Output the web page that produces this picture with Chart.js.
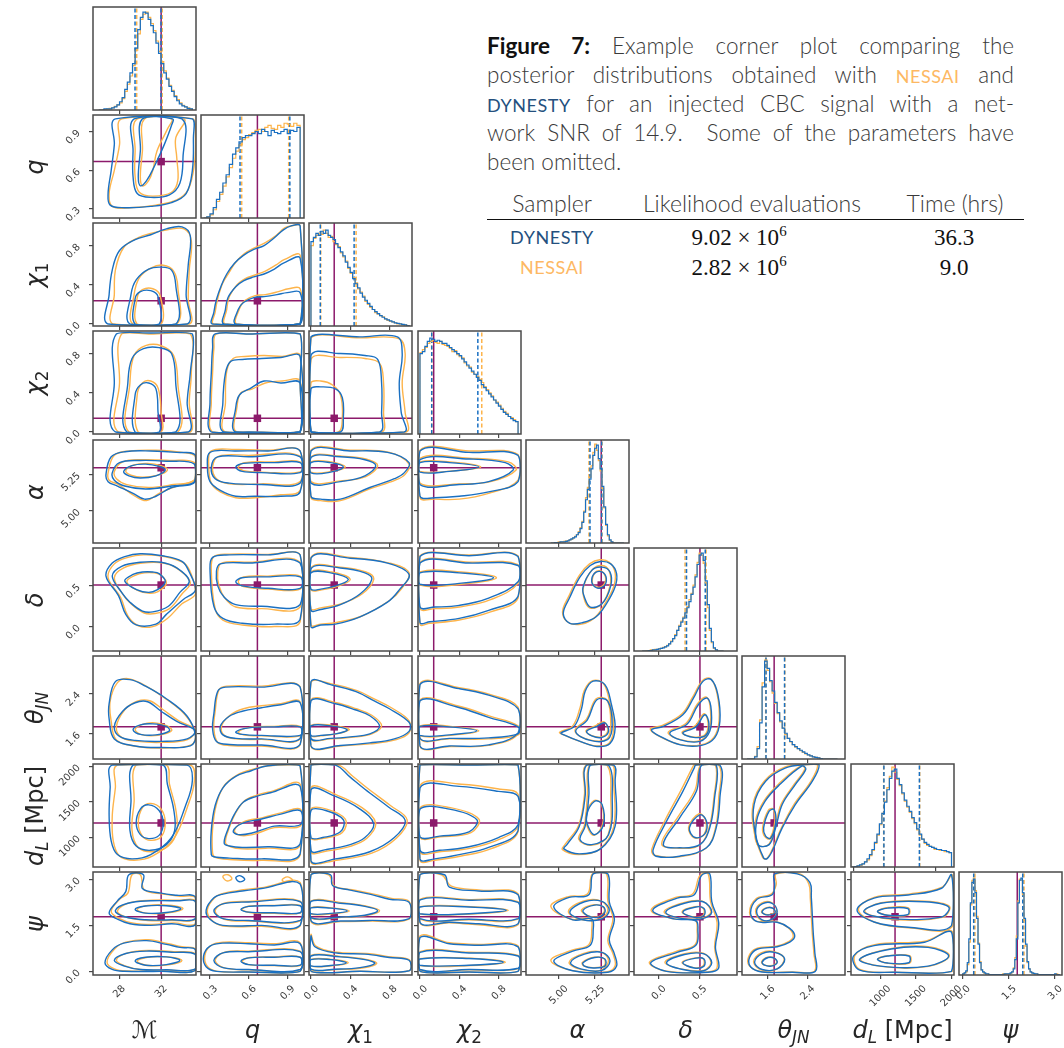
<!DOCTYPE html>
<html>
<head>
<meta charset="utf-8">
<title>Corner plot: nessai vs dynesty</title>
<script src="https://cdn.jsdelivr.net/npm/chart.js@4.4.1/dist/chart.umd.min.js"></script>
<style>
  html, body { margin:0; padding:0; background:#fff; }
  #page { position:relative; width:1064px; height:1048px; overflow:hidden; background:#fff; }
  #page canvas { position:absolute; }
  .axlab { position:absolute; font-family:'DejaVu Sans', 'Noto Sans', sans-serif; font-size:24px; color:#262626;
           white-space:nowrap; transform:translate(-50%,-50%); line-height:1; }
  .axlab.rot { transform:translate(-50%,-50%) rotate(-90deg); }
  .axlab i { font-style:oblique; }
  .axlab sub { font-size:70%; vertical-align:-0.3em; line-height:0; }
  #caption { position:absolute; left:487px; top:31px; width:527px; font-family:Lato, sans-serif; font-weight:300;
             font-size:22.5px; color:#3a3a3a; }
  #caption .ln { height:29px; line-height:29px; text-align:justify; text-align-last:justify; }
  #caption .ln.last { text-align-last:left; }
  #caption b { font-weight:700; color:#111; }
  .cell { position:absolute; transform:translate(-50%,-50%); white-space:nowrap; line-height:1; }
  .hd { font-family:Lato, sans-serif; font-weight:300; font-size:23px; color:#3a3a3a; }
  .num { font-family:'Liberation Serif', serif; font-size:23px; color:#111; }
  .num sup { font-size:65%; vertical-align:0.55em; line-height:0; }
  .sc-ne { color:#fdb863 !important; font-size:0.8em; letter-spacing:0.03em; font-weight:400; }
  .sc-dy { color:#24507e !important; font-size:0.8em; letter-spacing:0.03em; font-weight:400; }
  .cell.sc-ne, .cell.sc-dy { font-size:18px; }
  #rule { position:absolute; left:487px; top:219px; width:537px; height:0; border-top:1.3px solid #111; }
</style>
</head>
<body>
<div id="page">
  <div id="caption">
    <div class="ln"><b>Figure 7:</b> Example corner plot comparing the</div>
    <div class="ln">posterior distributions obtained with <span class="sc-ne">NESSAI</span> and</div>
    <div class="ln"><span class="sc-dy">DYNESTY</span> for an injected CBC signal with a net-</div>
    <div class="ln">work SNR of 14.9.&nbsp; Some of the parameters have</div>
    <div class="ln last">been omitted.</div>
  </div>
  <div class="cell hd" style="left:552px;top:203px">Sampler</div>
  <div class="cell hd" style="left:752px;top:203px">Likelihood evaluations</div>
  <div class="cell hd" style="left:955px;top:203px">Time (hrs)</div>
  <div id="rule"></div>
  <div class="cell hd sc-dy" style="left:552px;top:237px">DYNESTY</div>
  <div class="cell num" style="left:739px;top:237px">9.02 × 10<sup>6</sup></div>
  <div class="cell num" style="left:954px;top:237px">36.3</div>
  <div class="cell hd sc-ne" style="left:552px;top:267px">NESSAI</div>
  <div class="cell num" style="left:739px;top:267px">2.82 × 10<sup>6</sup></div>
  <div class="cell num" style="left:954px;top:267px">9.0</div>
</div>
<script>
// ---------------- parameters (order: Mc, q, chi1, chi2, alpha, delta, theta_JN, d_L, psi) ----------------
const paramLabels = ['ℳ', '<i>q</i>', '<i>χ</i><sub>1</sub>', '<i>χ</i><sub>2</sub>', '<i>α</i>', '<i>δ</i>',
                     '<i>θ</i><sub><i>JN</i></sub>', '<i>d</i><sub><i>L</i></sub> [Mpc]', '<i>ψ</i>'];
const axisMin = [25.45, 0.23, -0.02, -0.02, 4.78, -0.30, 1.10, 585, -0.12];
const axisMax = [35.35, 1.03, 1.03, 1.03, 5.485, 0.965, 3.15, 2035, 3.24];
const tickVals = [[28, 32], [0.3, 0.6, 0.9], [0, 0.4, 0.8], [0, 0.4, 0.8], [5.0, 5.25], [0, 0.5], [1.6, 2.4], [1000, 1500, 2000], [0, 1.5, 3.0]];
const tickText = [['28', '32'], ['0.3', '0.6', '0.9'], ['0.0', '0.4', '0.8'], ['0.0', '0.4', '0.8'], ['5.00', '5.25'],
                  ['0.0', '0.5'], ['1.6', '2.4'], ['1000', '1500', '2000'], ['0.0', '1.5', '3.0']];
const histTickVals = [[28, 32], [0.3, 0.6, 0.9], [0, 0.4, 0.8], [0, 0.4, 0.8], [5.0, 5.25], [0, 0.5], [1.6, 2.4], [620, 1195, 1780], [0, 1.5, 3.0]];
const truths = [32.0, 0.668, 0.237, 0.14, 5.295, 0.51, 1.74, 1205, 1.78];

// ---------------- 1-D marginals (step histograms, heights as fraction of panel) ----------------
const histStart = [26.0, 0.25, 0.0, 0.0, 4.95, -0.2, 1.2, 600, 0.0];
const histWidth = [0.25, 0.025, 0.025, 0.025, 0.0125, 0.025, 0.05, 35, 0.05];

const histMcDy = [0,0,0.01,0.01, 0.01,0.02,0.03,0.05, 0.08,0.12,0.2,0.27, 0.36,0.45,0.6,0.78, 0.9,0.95,0.94,0.88, 0.82,0.75,0.65,0.55, 0.45,0.36,0.3,0.23, 0.18,0.13,0.09,0.06, 0.04,0.03,0.015,0.01];
const histMcNe = [0,0,0.005,0.01, 0.015,0.02,0.035,0.05, 0.07,0.11,0.18,0.25, 0.33,0.43,0.58,0.74, 0.88,0.93,0.95,0.9, 0.84,0.77,0.67,0.57, 0.47,0.38,0.31,0.24, 0.19,0.14,0.1,0.07, 0.045,0.03,0.02,0.01];
const histQDy = [0,0.01, 0.04,0.1, 0.18,0.25, 0.34,0.42, 0.52,0.62, 0.68,0.74, 0.78,0.8, 0.8,0.82, 0.84,0.82, 0.86,0.84, 0.8,0.85, 0.83,0.82, 0.84,0.86, 0.82,0.85, 0.84,0.88];
const histQNe = [0,0.01, 0.03,0.08, 0.16,0.23, 0.31,0.4, 0.49,0.58, 0.65,0.71, 0.76,0.78, 0.81,0.83, 0.85,0.86, 0.84,0.88, 0.9,0.87, 0.86,0.9, 0.88,0.92, 0.91,0.89, 0.92,0.9];
const histC1Dy = [0.82,0.86,0.9,0.88, 0.92,0.9,0.93,0.88, 0.86,0.84,0.8,0.76, 0.72,0.68,0.62,0.57, 0.52,0.46,0.41,0.37, 0.32,0.28,0.25,0.22, 0.19,0.16,0.14,0.12, 0.1,0.085,0.07,0.06, 0.05,0.04,0.03,0.025, 0.02,0.015,0.01,0.005];
const histC1Ne = [0.78,0.85,0.88,0.9, 0.89,0.93,0.9,0.86, 0.87,0.82,0.79,0.77, 0.71,0.67,0.63,0.56, 0.51,0.47,0.42,0.36, 0.33,0.29,0.24,0.21, 0.18,0.16,0.13,0.115, 0.1,0.09,0.07,0.055, 0.045,0.04,0.03,0.02, 0.02,0.01,0.01,0.005];
const histC2Dy = [0.78,0.8,0.85,0.9, 0.93,0.92,0.9,0.91, 0.9,0.88,0.88,0.86, 0.84,0.82,0.8,0.78, 0.76,0.73,0.7,0.67, 0.64,0.61,0.58,0.55, 0.52,0.48,0.45,0.42, 0.39,0.36,0.33,0.3, 0.27,0.24,0.21,0.19, 0.17,0.15,0.13,0.12];
const histC2Ne = [0.79,0.82,0.84,0.88, 0.9,0.91,0.89,0.88, 0.9,0.87,0.86,0.85, 0.83,0.8,0.81,0.77, 0.75,0.74,0.69,0.66, 0.65,0.6,0.58,0.56, 0.53,0.5,0.46,0.43, 0.4,0.37,0.33,0.31, 0.28,0.25,0.22,0.2, 0.17,0.16,0.14,0.12];
const histRaDy = [0,0,0.005,0.005, 0.005,0.01,0.01,0.01, 0.015,0.02,0.03,0.04, 0.05,0.06,0.08,0.1, 0.14,0.2,0.3,0.42, 0.52,0.62,0.72,0.85, 0.92,0.95,0.82,0.72, 0.55,0.35,0.18,0.08, 0.03,0.01,0,0, 0,0,0,0];
const histRaNe = [0,0,0,0.005, 0.01,0.01,0.01,0.015, 0.02,0.02,0.03,0.035, 0.05,0.065,0.08,0.11, 0.15,0.21,0.31,0.44, 0.54,0.64,0.75,0.88, 0.96,0.9,0.8,0.7, 0.53,0.34,0.17,0.07, 0.025,0.01,0,0, 0,0,0,0];
const histDecDy = [0,0,0,0.005, 0.005,0.01,0.01,0.015, 0.02,0.025,0.03,0.04, 0.05,0.07,0.09,0.12, 0.15,0.2,0.24,0.28, 0.32,0.37,0.42,0.48, 0.55,0.62,0.72,0.84, 0.93,0.95,0.88,0.68, 0.45,0.22,0.09,0.03, 0.01,0,0,0];
const histDecNe = [0,0,0.005,0.005, 0.01,0.01,0.015,0.015, 0.02,0.025,0.035,0.04, 0.055,0.07,0.095,0.12, 0.16,0.2,0.25,0.29, 0.33,0.37,0.43,0.5, 0.56,0.64,0.74,0.86, 0.95,0.93,0.85,0.66, 0.42,0.2,0.08,0.025, 0.01,0,0,0];
const histThDy = [0,0,0,0.02, 0.1,0.35,0.7,0.95, 0.88,0.76,0.66,0.55, 0.45,0.37,0.3,0.25, 0.2,0.17,0.14,0.12, 0.1,0.085,0.07,0.055, 0.04,0.03,0.02,0.015, 0.01,0.005,0,0, 0,0,0,0];
const histThNe = [0,0,0,0.025, 0.12,0.38,0.74,0.96, 0.86,0.75,0.64,0.54, 0.44,0.36,0.3,0.24, 0.2,0.165,0.14,0.115, 0.1,0.08,0.065,0.05, 0.04,0.03,0.02,0.015, 0.01,0.005,0,0, 0,0,0,0];
const histDlDy = [0,0.005,0.01,0.02, 0.03,0.05,0.08,0.12, 0.17,0.24,0.32,0.42, 0.52,0.63,0.75,0.86, 0.93,0.95,0.86,0.8, 0.72,0.65,0.59,0.54, 0.48,0.43,0.37,0.32, 0.27,0.24,0.22,0.2, 0.19,0.18,0.17,0.17, 0.16,0.16,0.15,0.14];
const histDlNe = [0,0.005,0.01,0.015, 0.03,0.05,0.07,0.11, 0.16,0.23,0.31,0.41, 0.52,0.64,0.77,0.88, 0.97,0.92,0.85,0.79, 0.71,0.64,0.58,0.53, 0.47,0.42,0.36,0.31, 0.27,0.23,0.21,0.2, 0.19,0.17,0.17,0.16, 0.16,0.15,0.15,0.14];
const histPsiDy = [0.01,0.02,0.04, 0.12,0.35, 0.7,0.9,0.93,0.8, 0.55,0.3,0.12, 0.05,0.03,0.02,0.01,
  0.01,0.005,0.005,0.005,0.005,0.005,0.005,0.005,0.005,0.005,0.005,0.01,0.01,0.01,
  0.01,0.02,0.03,0.06, 0.15,0.35, 0.7,0.92,0.94,0.8, 0.55,0.3,0.13, 0.06,0.03,0.02,0.015,0.01,
  0.01,0.005,0.005,0.005,0.005,0.005,0.005,0.005,0.005,0.005,0.005,0.005,0.01,0.005,0.005];
const histPsiNe = [0.01,0.02,0.03, 0.1,0.32, 0.68,0.92,0.94,0.82, 0.57,0.31,0.13, 0.05,0.03,0.015,0.01,
  0.01,0.005,0.005,0.005,0.005,0.005,0.005,0.005,0.005,0.005,0.01,0.005,0.01,0.01,
  0.01,0.015,0.03,0.07, 0.17,0.38, 0.72,0.93,0.92,0.78, 0.53,0.28,0.12, 0.06,0.03,0.02,0.01,0.01,
  0.01,0.005,0.005,0.005,0.005,0.005,0.005,0.005,0.005,0.005,0.005,0.005,0.005,0.01,0.005];
const histDy = [histMcDy, histQDy, histC1Dy, histC2Dy, histRaDy, histDecDy, histThDy, histDlDy, histPsiDy];
const histNe = [histMcNe, histQNe, histC1Ne, histC2Ne, histRaNe, histDecNe, histThNe, histDlNe, histPsiNe];

// credible-interval bounds drawn as dashed lines on the marginals
const quantDy = [[29.49, 31.99], [0.533, 0.92], [0.095, 0.44], [0.12, 0.59], [5.218, 5.298], [0.345, 0.575], [1.578, 1.947], [1048, 1548], [0.36, 1.96]];
const quantNe = [[29.65, 32.1], [0.546, 0.911], [0.1, 0.46], [0.12, 0.63], [5.211, 5.3], [0.327, 0.585], [1.572, 1.952], [1045, 1552], [0.4, 2.0]];

// ---------------- 2-D credible contours, [x0,y0, x1,y1, ...] closed loops ----------------
const ct_q_mc = {
  dy: [[27.6,1.0, 27.5,0.8, 27.2,0.6, 26.9,0.42, 27.1,0.33, 28.5,0.31, 31.0,0.32, 33.0,0.35, 34.4,0.42, 35.0,0.6, 35.1,0.85, 35.0,1.0],
       [29.4,1.0, 29.3,0.75, 29.3,0.55, 29.7,0.42, 31.0,0.39, 32.8,0.41, 33.8,0.5, 34.1,0.7, 34.0,1.0],
       [30.2,1.0, 30.0,0.75, 29.8,0.55, 30.0,0.48, 30.6,0.52, 31.4,0.64, 32.3,0.8, 33.0,0.95, 33.1,1.0]],
  ne: [[28.2,1.0, 28.0,0.8, 27.5,0.6, 27.0,0.42, 27.3,0.32, 29.0,0.31, 31.5,0.33, 33.5,0.37, 34.6,0.45, 35.2,0.65, 35.3,0.85, 35.1,1.0],
       [29.7,1.0, 29.5,0.75, 29.5,0.55, 29.9,0.43, 31.2,0.4, 33.0,0.43, 33.6,0.52, 33.5,0.7, 33.4,0.85, 34.2,1.0],
       [30.4,1.0, 30.2,0.75, 30.0,0.55, 30.2,0.48, 30.8,0.52, 31.2,0.6, 31.6,0.75, 32.6,0.92, 33.0,1.0]]
};
const ct_c1_mc = {
  dy: [[26.9,0.0, 27.0,0.3, 27.3,0.55, 28.0,0.75, 29.5,0.86, 31.0,0.91, 32.5,0.97, 34.0,0.99, 34.8,0.9, 34.6,0.6, 34.4,0.3, 34.5,0.0],
       [29.0,0.0, 29.1,0.3, 29.6,0.45, 30.8,0.56, 32.0,0.58, 33.0,0.55, 33.4,0.4, 33.4,0.0],
       [29.5,0.0, 29.5,0.26, 30.0,0.33, 31.0,0.34, 31.7,0.28, 31.8,0.0]],
  ne: [[27.4,0.0, 27.5,0.3, 27.6,0.55, 28.4,0.78, 29.8,0.88, 31.2,0.93, 32.6,0.96, 34.2,0.97, 34.9,0.85, 34.7,0.55, 34.6,0.25, 34.7,0.0],
       [29.3,0.0, 29.4,0.3, 29.9,0.47, 31.0,0.57, 32.2,0.6, 33.2,0.54, 33.6,0.38, 33.5,0.0],
       [29.7,0.0, 29.7,0.27, 30.2,0.35, 31.2,0.36, 31.9,0.29, 32.0,0.0]]
};
const ct_c2_mc = {
  dy: [[27.6,0.0, 27.5,0.5, 27.7,1.0, 31.0,1.01, 35.0,1.0, 34.8,0.6, 34.5,0.3, 34.6,0.0],
       [28.7,0.0, 28.8,0.5, 29.2,0.75, 30.3,0.85, 31.8,0.86, 33.0,0.8, 33.4,0.5, 33.4,0.0],
       [29.5,0.0, 29.5,0.38, 30.0,0.48, 30.8,0.5, 31.5,0.44, 31.7,0.2, 31.8,0.0]],
  ne: [[27.9,0.0, 28.0,0.5, 28.2,1.0, 31.0,1.0, 34.8,1.0, 34.9,0.6, 34.7,0.3, 34.8,0.0],
       [28.9,0.0, 29.0,0.5, 29.4,0.78, 30.5,0.88, 32.0,0.88, 33.2,0.78, 33.6,0.5, 33.6,0.0],
       [29.8,0.0, 29.7,0.38, 30.2,0.5, 31.0,0.52, 31.7,0.45, 32.0,0.2, 32.0,0.0]]
};
const ct_ra_mc = {
  dy: [[26.7,5.25, 27.2,5.37, 28.5,5.405, 31.0,5.41, 33.5,5.4, 35.3,5.38, 35.3,5.2, 33.0,5.16, 31.5,5.1, 30.4,5.08, 29.3,5.12, 27.8,5.17, 26.9,5.2],
       [27.3,5.26, 28.0,5.33, 30.0,5.345, 32.5,5.34, 35.2,5.32, 35.2,5.2, 33.0,5.17, 30.5,5.15, 28.5,5.17, 27.5,5.21],
       [28.4,5.27, 29.2,5.31, 30.5,5.32, 31.8,5.305, 32.4,5.28, 31.5,5.24, 30.0,5.225, 28.9,5.24]],
  ne: [[26.9,5.26, 27.5,5.38, 29.0,5.41, 31.5,5.415, 34.0,5.4, 35.3,5.37, 35.3,5.22, 33.5,5.17, 31.8,5.12, 30.6,5.07, 29.5,5.1, 27.9,5.18, 27.0,5.21],
       [27.5,5.27, 28.3,5.335, 30.2,5.35, 32.8,5.345, 35.2,5.33, 35.2,5.21, 33.2,5.18, 30.8,5.16, 28.7,5.18, 27.7,5.22],
       [28.6,5.275, 29.4,5.315, 30.7,5.325, 32.0,5.31, 32.6,5.28, 31.7,5.245, 30.2,5.23, 29.1,5.245]]
};
const ct_dec_mc = {
  dy: [[26.7,0.62, 27.3,0.78, 28.5,0.86, 30.0,0.895, 32.1,0.87, 34.0,0.8, 34.7,0.67, 35.3,0.45, 34.1,0.33, 32.5,0.15, 31.5,0.03, 29.6,0.02, 28.6,0.15, 27.9,0.38],
       [27.3,0.62, 28.2,0.74, 30.0,0.79, 32.0,0.79, 33.5,0.72, 34.7,0.56, 33.8,0.42, 32.7,0.25, 31.2,0.18, 30.2,0.19, 29.0,0.3, 28.2,0.42],
       [28.5,0.56, 29.3,0.64, 30.2,0.67, 31.2,0.67, 31.8,0.65, 32.4,0.55, 31.6,0.45, 30.8,0.42, 29.7,0.45]],
  ne: [[26.9,0.6, 27.5,0.77, 28.8,0.85, 30.3,0.88, 32.3,0.86, 34.2,0.78, 34.9,0.64, 35.3,0.4, 34.0,0.28, 32.6,0.1, 31.2,0.0, 29.8,0.01, 28.8,0.13, 28.1,0.36],
       [27.5,0.6, 28.4,0.72, 30.2,0.78, 32.2,0.78, 33.7,0.7, 34.8,0.54, 34.0,0.4, 32.8,0.22, 31.4,0.16, 30.3,0.17, 29.1,0.28, 28.3,0.4],
       [28.7,0.55, 29.5,0.63, 30.4,0.66, 31.3,0.66, 32.0,0.63, 32.5,0.53, 31.7,0.43, 30.9,0.41, 29.8,0.44]]
};
const ct_th_mc = {
  dy: [[27.6,2.64, 27.0,2.2, 27.0,1.9, 27.5,1.5, 29.5,1.36, 32.0,1.33, 34.8,1.36, 35.3,1.55, 34.5,1.95, 32.5,2.3, 30.5,2.55, 29.0,2.68],
       [27.5,1.75, 28.3,2.05, 29.5,2.22, 30.7,2.24, 32.0,2.05, 33.5,1.85, 35.3,1.66, 34.5,1.5, 32.0,1.45, 29.5,1.47, 28.0,1.55],
       [29.3,1.68, 30.0,1.78, 31.2,1.8, 32.5,1.75, 32.8,1.66, 31.5,1.58, 30.0,1.59]],
  ne: [[27.8,2.62, 27.1,2.25, 27.2,1.85, 27.7,1.48, 29.7,1.35, 32.2,1.32, 34.9,1.38, 35.3,1.6, 34.3,1.98, 32.3,2.32, 30.3,2.58, 28.8,2.7],
       [27.7,1.74, 28.5,2.08, 29.7,2.25, 30.9,2.26, 32.2,2.08, 33.7,1.86, 35.3,1.68, 34.6,1.49, 32.2,1.43, 29.7,1.45, 28.2,1.53],
       [29.5,1.68, 30.2,1.79, 31.4,1.82, 32.6,1.76, 33.0,1.66, 31.7,1.57, 30.2,1.58]]
};
const ct_dl_mc = {
  dy: [[27.3,2020, 27.1,1700, 27.0,1300, 27.2,950, 27.8,760, 29.2,700, 31.0,760, 33.0,1000, 34.3,1430, 35.0,1800, 34.5,2020],
       [29.3,2020, 29.1,1500, 29.0,1100, 29.6,880, 31.0,820, 32.5,900, 33.3,1100, 33.2,1400, 32.6,1750, 32.2,2020],
       [29.6,1200, 30.0,1400, 30.8,1460, 31.8,1380, 32.2,1200, 31.8,1030, 30.8,985, 30.0,1040]],
  ne: [[27.8,2020, 27.6,1700, 27.3,1300, 27.4,950, 28.0,740, 29.4,680, 31.2,740, 33.2,980, 34.5,1420, 35.2,1800, 34.8,2020],
       [29.6,2020, 29.4,1500, 29.2,1100, 29.8,860, 31.2,800, 32.7,880, 33.5,1090, 33.4,1400, 32.8,1750, 32.5,2020],
       [29.8,1200, 30.2,1420, 31.0,1480, 32.0,1400, 32.4,1200, 32.0,1010, 31.0,960, 30.2,1020]]
};
const ct_psi_mc = {
  dy: [[27.0,1.9, 27.8,2.3, 28.6,2.6, 28.9,3.15, 30.3,3.15, 30.2,2.7, 32.0,2.55, 33.5,2.48, 35.3,2.42, 35.3,1.52, 33.0,1.55, 31.0,1.5, 29.0,1.55, 27.8,1.7],
       [27.6,1.98, 28.8,2.22, 31.0,2.3, 33.5,2.3, 35.3,2.28, 35.3,1.72, 33.0,1.68, 30.5,1.68, 28.5,1.78],
       [29.5,2.02, 30.5,2.13, 32.5,2.14, 33.9,2.04, 32.5,1.92, 30.5,1.9],
       [26.6,0.28, 27.3,0.7, 28.4,0.92, 30.6,1.0, 32.5,0.88, 33.8,0.78, 35.3,0.7, 35.3,0.03, 32.0,0.0, 28.5,0.0, 27.3,0.06],
       [27.5,0.36, 28.6,0.58, 30.6,0.66, 33.0,0.62, 35.3,0.55, 35.3,0.08, 32.5,0.05, 30.0,0.06, 28.4,0.18],
       [29.5,0.34, 30.5,0.46, 32.5,0.47, 33.8,0.36, 32.5,0.22, 30.5,0.2]],
  ne: [[27.2,1.95, 28.0,2.35, 28.8,2.55, 29.2,3.15, 30.0,3.15, 30.4,2.65, 32.2,2.52, 33.8,2.45, 35.3,2.4, 35.3,1.55, 33.2,1.58, 31.2,1.53, 29.2,1.58, 28.0,1.72],
       [27.8,1.97, 29.0,2.24, 31.2,2.32, 33.7,2.32, 35.3,2.3, 35.3,1.7, 33.2,1.66, 30.7,1.66, 28.7,1.76],
       [29.7,2.02, 30.7,2.15, 32.7,2.16, 34.1,2.05, 32.7,1.91, 30.7,1.89],
       [26.8,0.3, 27.5,0.72, 28.6,0.95, 30.8,1.03, 32.7,0.9, 34.0,0.8, 35.3,0.72, 35.3,0.04, 32.2,0.01, 28.7,0.01, 27.5,0.08],
       [27.7,0.37, 28.8,0.6, 30.8,0.68, 33.2,0.64, 35.3,0.57, 35.3,0.07, 32.7,0.04, 30.2,0.05, 28.6,0.17],
       [29.7,0.33, 30.7,0.46, 32.7,0.47, 34.0,0.35, 32.7,0.21, 30.7,0.19]]
};
const ct_c1_q = {
  dy: [[0.32,0.0, 0.33,0.12, 0.35,0.25, 0.39,0.4, 0.43,0.51, 0.49,0.62, 0.56,0.7, 0.64,0.76, 0.72,0.8, 0.8,0.88, 0.87,0.96, 0.93,1.0, 1.0,1.0, 1.0,0.0],
       [0.41,0.0, 0.42,0.15, 0.44,0.27, 0.5,0.38, 0.56,0.44, 0.64,0.48, 0.72,0.51, 0.8,0.56, 0.87,0.62, 1.0,0.67, 1.0,0.0],
       [0.5,0.0, 0.52,0.15, 0.56,0.22, 0.64,0.27, 0.72,0.28, 0.82,0.3, 0.9,0.32, 1.0,0.32, 1.0,0.0]],
  ne: [[0.33,0.0, 0.34,0.12, 0.36,0.26, 0.4,0.42, 0.45,0.53, 0.5,0.63, 0.57,0.72, 0.65,0.78, 0.73,0.83, 0.81,0.9, 0.88,0.98, 0.93,1.0, 1.0,1.0, 1.0,0.0],
       [0.42,0.0, 0.43,0.15, 0.45,0.28, 0.51,0.4, 0.57,0.46, 0.65,0.5, 0.73,0.54, 0.81,0.6, 0.88,0.66, 1.0,0.7, 1.0,0.0],
       [0.51,0.0, 0.53,0.16, 0.57,0.24, 0.65,0.29, 0.73,0.3, 0.83,0.33, 0.91,0.36, 1.0,0.36, 1.0,0.0]]
};
const ct_c2_q = {
  dy: [[0.31,0.0, 0.3,0.3, 0.31,0.6, 0.32,0.85, 0.34,1.0, 0.6,1.0, 1.0,1.0, 1.0,0.5, 1.0,0.0, 0.6,0.0],
       [0.41,0.0, 0.4,0.3, 0.42,0.6, 0.46,0.72, 0.55,0.74, 0.7,0.75, 0.85,0.76, 1.0,0.77, 1.0,0.0],
       [0.5,0.0, 0.5,0.25, 0.53,0.38, 0.62,0.45, 0.72,0.52, 0.85,0.5, 1.0,0.5, 1.0,0.0]],
  ne: [[0.32,0.0, 0.31,0.3, 0.32,0.6, 0.33,0.85, 0.35,1.0, 0.6,1.0, 1.0,1.0, 1.0,0.5, 1.0,0.0, 0.6,0.0],
       [0.42,0.0, 0.42,0.3, 0.43,0.62, 0.48,0.75, 0.57,0.77, 0.72,0.78, 0.86,0.77, 1.0,0.78, 1.0,0.0],
       [0.51,0.0, 0.51,0.26, 0.54,0.4, 0.63,0.44, 0.73,0.5, 0.86,0.52, 1.0,0.52, 1.0,0.0]]
};
const ct_ra_q = {
  dy: [[0.28,5.3, 0.3,5.4, 0.5,5.41, 0.75,5.41, 1.0,5.41, 1.0,5.13, 0.85,5.1, 0.65,5.1, 0.5,5.1, 0.38,5.14, 0.3,5.2],
       [0.31,5.3, 0.36,5.37, 0.6,5.37, 1.0,5.37, 1.0,5.19, 0.7,5.18, 0.45,5.19, 0.34,5.22],
       [0.5,5.3, 0.56,5.325, 0.8,5.33, 1.0,5.33, 1.0,5.262, 0.7,5.262, 0.55,5.27]],
  ne: [[0.29,5.31, 0.31,5.41, 0.5,5.42, 0.75,5.415, 1.0,5.41, 1.0,5.14, 0.85,5.11, 0.65,5.09, 0.5,5.09, 0.38,5.13, 0.31,5.19],
       [0.32,5.3, 0.37,5.375, 0.6,5.38, 1.0,5.375, 1.0,5.2, 0.7,5.185, 0.45,5.185, 0.35,5.22],
       [0.52,5.3, 0.57,5.33, 0.8,5.335, 1.0,5.335, 1.0,5.267, 0.7,5.265, 0.56,5.275]]
};
const ct_dec_q = {
  dy: [[0.3,0.7, 0.32,0.85, 0.45,0.88, 0.75,0.88, 1.0,0.88, 1.0,0.09, 0.8,0.03, 0.55,0.04, 0.4,0.1, 0.33,0.25],
       [0.35,0.68, 0.38,0.77, 0.6,0.78, 1.0,0.78, 1.0,0.27, 0.7,0.25, 0.5,0.27, 0.41,0.36, 0.36,0.5],
       [0.5,0.55, 0.55,0.6, 0.75,0.61, 1.0,0.61, 1.0,0.47, 0.75,0.47, 0.55,0.5]],
  ne: [[0.31,0.68, 0.33,0.86, 0.45,0.89, 0.75,0.885, 1.0,0.88, 1.0,0.06, 0.8,0.0, 0.55,0.02, 0.4,0.08, 0.34,0.22],
       [0.36,0.67, 0.39,0.78, 0.6,0.79, 1.0,0.79, 1.0,0.24, 0.7,0.22, 0.5,0.24, 0.42,0.34, 0.37,0.5],
       [0.52,0.55, 0.56,0.61, 0.75,0.62, 1.0,0.62, 1.0,0.46, 0.75,0.46, 0.56,0.49]]
};
const ct_th_q = {
  dy: [[0.33,2.0, 0.36,2.45, 0.42,2.53, 0.7,2.53, 1.0,2.53, 1.0,1.39, 0.7,1.38, 0.45,1.39, 0.35,1.45, 0.32,1.7],
       [0.38,1.75, 0.45,1.95, 0.55,2.05, 0.7,2.12, 0.85,2.18, 1.0,2.22, 1.0,1.51, 0.7,1.5, 0.5,1.51, 0.4,1.58],
       [0.5,1.64, 0.6,1.72, 0.8,1.74, 1.0,1.74, 1.0,1.57, 0.7,1.57, 0.55,1.59]],
  ne: [[0.34,2.05, 0.37,2.48, 0.43,2.55, 0.7,2.55, 1.0,2.54, 1.0,1.38, 0.7,1.36, 0.45,1.37, 0.36,1.43, 0.33,1.7],
       [0.39,1.76, 0.46,1.98, 0.56,2.1, 0.7,2.16, 0.85,2.2, 1.0,2.24, 1.0,1.5, 0.7,1.49, 0.5,1.5, 0.41,1.57],
       [0.52,1.64, 0.61,1.73, 0.8,1.75, 1.0,1.75, 1.0,1.56, 0.7,1.56, 0.56,1.58]]
};
const ct_dl_q = {
  dy: [[0.31,760, 0.31,1100, 0.34,1450, 0.4,1700, 0.5,1860, 0.62,1940, 0.75,2010, 1.0,2010, 1.0,770, 0.7,700, 0.45,710, 0.33,730],
       [0.41,920, 0.44,1120, 0.49,1330, 0.56,1500, 0.66,1580, 0.77,1630, 1.0,1720, 1.0,910, 0.75,870, 0.55,860, 0.45,880],
       [0.48,1090, 0.55,1200, 0.7,1260, 0.85,1330, 1.0,1380, 1.0,1180, 0.8,1160, 0.62,1060, 0.52,1040]],
  ne: [[0.32,780, 0.32,1120, 0.35,1470, 0.41,1730, 0.51,1880, 0.63,1960, 0.76,2010, 1.0,2010, 1.0,750, 0.7,680, 0.45,690, 0.34,720],
       [0.42,930, 0.45,1140, 0.5,1350, 0.57,1520, 0.67,1600, 0.78,1650, 1.0,1750, 1.0,890, 0.75,850, 0.55,840, 0.46,870],
       [0.49,1100, 0.56,1220, 0.71,1280, 0.86,1350, 1.0,1400, 1.0,1160, 0.8,1140, 0.63,1040, 0.53,1030]]
};
const ct_psi_q = {
  dy: [[0.27,2.0, 0.33,2.4, 0.4,2.52, 0.55,2.62, 0.7,2.7, 1.0,2.85, 1.0,1.5, 0.7,1.5, 0.4,1.5, 0.3,1.7],
       [0.33,1.97, 0.4,2.2, 0.6,2.26, 1.0,2.27, 1.0,1.66, 0.6,1.66, 0.4,1.72],
       [0.54,2.02, 0.6,2.12, 0.8,2.14, 1.0,2.14, 1.0,1.91, 0.8,1.91, 0.6,1.93],
       [0.25,0.5, 0.3,0.82, 0.4,0.92, 0.6,0.9, 0.8,0.86, 1.0,0.9, 1.0,0.0, 0.6,-0.02, 0.35,0.0, 0.27,0.15],
       [0.33,0.35, 0.4,0.6, 0.6,0.64, 1.0,0.64, 1.0,0.06, 0.6,0.06, 0.4,0.12],
       [0.54,0.33, 0.6,0.44, 0.8,0.46, 1.0,0.46, 1.0,0.2, 0.8,0.2, 0.6,0.22],
       [0.5,3.05, 0.53,2.92, 0.57,3.0, 0.53,3.12]],
  ne: [[0.28,2.02, 0.34,2.42, 0.41,2.55, 0.56,2.66, 0.72,2.74, 1.0,2.9, 1.0,1.48, 0.7,1.47, 0.4,1.48, 0.31,1.68],
       [0.34,1.97, 0.41,2.22, 0.6,2.28, 1.0,2.29, 1.0,1.65, 0.6,1.64, 0.41,1.7],
       [0.55,2.02, 0.61,2.13, 0.8,2.15, 1.0,2.15, 1.0,1.9, 0.8,1.89, 0.61,1.92],
       [0.26,0.52, 0.31,0.85, 0.41,0.95, 0.6,0.93, 0.8,0.9, 1.0,0.93, 1.0,0.0, 0.6,-0.02, 0.36,0.0, 0.28,0.16],
       [0.34,0.36, 0.41,0.62, 0.6,0.66, 1.0,0.66, 1.0,0.05, 0.6,0.05, 0.41,0.11],
       [0.55,0.33, 0.61,0.45, 0.8,0.47, 1.0,0.47, 1.0,0.19, 0.8,0.19, 0.61,0.21],
       [0.4,3.1, 0.43,2.95, 0.47,3.02, 0.44,3.15],
       [0.86,2.98, 0.9,2.9, 0.94,2.98, 0.9,3.08]]
};
const ct_c2_c1 = {
  dy: [[0.0,0.0, 0.0,0.97, 0.5,0.97, 0.88,0.97, 0.93,0.8, 0.9,0.5, 0.92,0.2, 0.95,0.0],
       [0.0,0.0, 0.0,0.78, 0.3,0.8, 0.55,0.78, 0.68,0.74, 0.72,0.5, 0.72,0.2, 0.7,0.0],
       [0.0,0.0, 0.0,0.44, 0.1,0.46, 0.25,0.44, 0.32,0.35, 0.33,0.15, 0.3,0.0]],
  ne: [[0.0,0.0, 0.0,0.96, 0.5,0.96, 0.9,0.95, 0.96,0.8, 0.93,0.5, 0.96,0.2, 0.97,0.0],
       [0.0,0.0, 0.0,0.74, 0.3,0.76, 0.55,0.75, 0.7,0.7, 0.74,0.5, 0.74,0.2, 0.72,0.0],
       [0.0,0.0, 0.0,0.5, 0.1,0.52, 0.22,0.48, 0.3,0.38, 0.32,0.15, 0.28,0.0]]
};
const ct_ra_c1 = {
  dy: [[0.0,5.1, 0.0,5.41, 0.4,5.41, 0.78,5.4, 1.0,5.33, 0.95,5.26, 0.85,5.22, 0.6,5.16, 0.3,5.08, 0.1,5.08],
       [0.0,5.19, 0.0,5.365, 0.3,5.37, 0.55,5.35, 0.66,5.31, 0.55,5.24, 0.3,5.2],
       [0.0,5.26, 0.0,5.33, 0.2,5.33, 0.33,5.3, 0.2,5.265]],
  ne: [[0.0,5.09, 0.0,5.415, 0.4,5.415, 0.8,5.4, 1.0,5.32, 0.96,5.25, 0.86,5.21, 0.6,5.15, 0.3,5.07, 0.1,5.07],
       [0.0,5.2, 0.0,5.37, 0.3,5.375, 0.56,5.355, 0.68,5.31, 0.56,5.235, 0.3,5.205],
       [0.0,5.265, 0.0,5.335, 0.21,5.335, 0.35,5.3, 0.21,5.27]]
};
const ct_dec_c1 = {
  dy: [[0.0,0.0, 0.0,0.84, 0.4,0.84, 0.78,0.78, 1.0,0.64, 0.9,0.45, 0.78,0.3, 0.5,0.12, 0.25,0.03, 0.1,0.02],
       [0.0,0.2, 0.0,0.71, 0.3,0.72, 0.55,0.66, 0.62,0.58, 0.5,0.4, 0.3,0.27, 0.1,0.21],
       [0.0,0.46, 0.0,0.66, 0.2,0.66, 0.38,0.58, 0.25,0.5, 0.1,0.46]],
  ne: [[0.0,0.02, 0.0,0.85, 0.4,0.85, 0.8,0.78, 1.0,0.66, 0.92,0.46, 0.8,0.32, 0.52,0.13, 0.26,0.05, 0.1,0.03],
       [0.0,0.22, 0.0,0.72, 0.3,0.73, 0.56,0.67, 0.64,0.58, 0.52,0.4, 0.31,0.28, 0.1,0.23],
       [0.0,0.45, 0.0,0.67, 0.21,0.67, 0.4,0.58, 0.26,0.49, 0.1,0.45]]
};
const ct_th_c1 = {
  dy: [[0.0,1.36, 0.0,2.64, 0.2,2.58, 0.46,2.44, 0.65,2.25, 0.8,2.1, 1.0,1.83, 1.0,1.65, 0.85,1.5, 0.6,1.42, 0.3,1.37],
       [0.0,1.51, 0.0,2.26, 0.25,2.2, 0.45,2.08, 0.6,1.96, 0.7,1.75, 0.6,1.6, 0.4,1.54, 0.2,1.51],
       [0.0,1.57, 0.0,1.76, 0.2,1.76, 0.37,1.68, 0.25,1.6, 0.1,1.57]],
  ne: [[0.0,1.35, 0.0,2.62, 0.2,2.6, 0.47,2.46, 0.66,2.28, 0.82,2.12, 1.0,1.86, 1.0,1.62, 0.86,1.48, 0.6,1.4, 0.3,1.36],
       [0.0,1.5, 0.0,2.28, 0.26,2.22, 0.46,2.1, 0.62,1.97, 0.72,1.76, 0.62,1.6, 0.41,1.53, 0.2,1.5],
       [0.0,1.56, 0.0,1.77, 0.21,1.77, 0.39,1.69, 0.26,1.6, 0.1,1.56]]
};
const ct_dl_c1 = {
  dy: [[0.0,670, 0.0,2020, 0.25,2020, 0.4,1850, 0.55,1680, 0.79,1430, 0.96,1240, 0.85,1000, 0.6,800, 0.25,700],
       [0.0,817, 0.0,1672, 0.25,1578, 0.5,1400, 0.64,1190, 0.55,1000, 0.4,900, 0.15,830],
       [0.0,1000, 0.0,1380, 0.15,1380, 0.33,1250, 0.3,1080, 0.12,1000]],
  ne: [[0.0,650, 0.0,2020, 0.28,2020, 0.42,1870, 0.57,1700, 0.81,1450, 0.98,1250, 0.87,990, 0.62,780, 0.26,680],
       [0.0,800, 0.0,1700, 0.26,1600, 0.52,1420, 0.66,1200, 0.57,990, 0.41,880, 0.16,810],
       [0.0,990, 0.0,1400, 0.16,1400, 0.35,1260, 0.32,1070, 0.13,990]]
};
const ct_psi_c1 = {
  dy: [[0.0,1.65, 0.0,3.15, 0.2,3.15, 0.22,2.8, 0.4,2.65, 0.62,2.5, 0.8,2.35, 1.0,2.25, 1.0,1.72, 0.6,1.66, 0.3,1.64],
       [0.0,1.75, 0.0,2.28, 0.3,2.22, 0.55,2.12, 0.68,1.98, 0.55,1.83, 0.3,1.77],
       [0.0,1.88, 0.0,2.07, 0.2,2.06, 0.37,1.97, 0.2,1.89],
       [0.0,0.0, 0.0,1.15, 0.04,0.8, 0.25,0.6, 0.55,0.56, 0.8,0.45, 1.0,0.36, 1.0,0.02, 0.5,0.0],
       [0.0,0.07, 0.0,0.5, 0.3,0.47, 0.55,0.38, 0.65,0.26, 0.5,0.12, 0.25,0.07],
       [0.0,0.18, 0.0,0.38, 0.2,0.38, 0.36,0.28, 0.2,0.19]],
  ne: [[0.0,1.62, 0.0,3.15, 0.18,3.15, 0.24,2.78, 0.42,2.66, 0.64,2.52, 0.82,2.38, 1.0,2.28, 1.0,1.7, 0.6,1.64, 0.3,1.62],
       [0.0,1.74, 0.0,2.3, 0.31,2.24, 0.56,2.13, 0.7,1.98, 0.56,1.82, 0.31,1.76],
       [0.0,1.87, 0.0,2.08, 0.21,2.07, 0.39,1.97, 0.21,1.88],
       [0.0,0.0, 0.0,1.2, 0.05,0.82, 0.26,0.62, 0.56,0.58, 0.82,0.47, 1.0,0.38, 1.0,0.02, 0.5,0.0],
       [0.0,0.06, 0.0,0.52, 0.31,0.48, 0.56,0.39, 0.67,0.26, 0.52,0.11, 0.26,0.06],
       [0.0,0.17, 0.0,0.39, 0.21,0.39, 0.38,0.28, 0.21,0.18]]
};
const ct_ra_c2 = {
  dy: [[0.0,5.1, 0.0,5.41, 0.5,5.4, 1.0,5.38, 1.0,5.2, 0.7,5.13, 0.4,5.1, 0.15,5.09],
       [0.0,5.18, 0.0,5.35, 0.5,5.355, 0.87,5.33, 0.95,5.28, 0.7,5.2, 0.4,5.18],
       [0.0,5.265, 0.0,5.33, 0.3,5.33, 0.6,5.3, 0.3,5.27]],
  ne: [[0.0,5.09, 0.0,5.415, 0.5,5.41, 1.0,5.385, 1.0,5.21, 0.7,5.12, 0.4,5.08, 0.15,5.08],
       [0.0,5.19, 0.0,5.36, 0.5,5.36, 0.9,5.335, 0.98,5.28, 0.72,5.2, 0.4,5.185],
       [0.0,5.27, 0.0,5.335, 0.31,5.335, 0.62,5.3, 0.31,5.272]]
};
const ct_dec_c2 = {
  dy: [[0.0,0.05, 0.0,0.86, 0.5,0.87, 1.0,0.86, 1.0,0.37, 0.7,0.2, 0.4,0.1, 0.1,0.06],
       [0.0,0.24, 0.0,0.78, 0.5,0.78, 1.0,0.75, 1.0,0.55, 0.7,0.35, 0.4,0.26, 0.15,0.24],
       [0.0,0.52, 0.0,0.66, 0.4,0.66, 0.75,0.6, 0.4,0.53]],
  ne: [[0.0,0.03, 0.0,0.87, 0.5,0.88, 1.0,0.87, 1.0,0.35, 0.72,0.18, 0.4,0.08, 0.1,0.04],
       [0.0,0.22, 0.0,0.79, 0.5,0.79, 1.0,0.76, 1.0,0.53, 0.72,0.33, 0.4,0.24, 0.15,0.22],
       [0.0,0.51, 0.0,0.67, 0.42,0.67, 0.78,0.6, 0.42,0.52]]
};
const ct_th_c2 = {
  dy: [[0.0,1.36, 0.0,2.58, 0.4,2.5, 0.7,2.37, 1.0,2.1, 1.0,1.62, 0.7,1.38, 0.3,1.36],
       [0.0,1.51, 0.0,2.26, 0.37,2.14, 0.7,1.93, 1.0,1.74, 1.0,1.6, 0.7,1.52, 0.3,1.51],
       [0.0,1.57, 0.0,1.75, 0.3,1.74, 0.58,1.66, 0.3,1.58]],
  ne: [[0.0,1.35, 0.0,2.6, 0.4,2.52, 0.72,2.38, 1.0,2.13, 1.0,1.6, 0.7,1.37, 0.3,1.35],
       [0.0,1.5, 0.0,2.28, 0.38,2.16, 0.72,1.95, 1.0,1.76, 1.0,1.58, 0.7,1.5, 0.3,1.5],
       [0.0,1.56, 0.0,1.76, 0.31,1.75, 0.6,1.66, 0.31,1.57]]
};
const ct_dl_c2 = {
  dy: [[0.0,700, 0.0,2020, 0.5,2020, 1.0,2020, 1.0,1100, 0.7,860, 0.4,760, 0.15,700],
       [0.0,820, 0.0,1700, 0.4,1720, 0.8,1650, 1.0,1580, 1.0,1180, 0.8,1000, 0.5,870, 0.2,820],
       [0.0,1010, 0.0,1400, 0.3,1400, 0.58,1250, 0.5,1080, 0.2,1020]],
  ne: [[0.0,680, 0.0,2020, 0.5,2020, 1.0,2020, 1.0,1080, 0.72,840, 0.42,740, 0.15,680],
       [0.0,800, 0.0,1730, 0.42,1750, 0.82,1680, 1.0,1610, 1.0,1160, 0.82,980, 0.52,850, 0.2,800],
       [0.0,1000, 0.0,1420, 0.31,1420, 0.6,1260, 0.52,1070, 0.21,1010]]
};
const ct_psi_c2 = {
  dy: [[0.0,1.6, 0.0,3.15, 0.25,3.15, 0.3,2.75, 0.6,2.62, 1.0,2.5, 1.0,1.55, 0.6,1.55, 0.3,1.6],
       [0.0,1.72, 0.0,2.33, 0.5,2.32, 1.0,2.25, 1.0,1.72, 0.5,1.7],
       [0.0,1.88, 0.0,2.1, 0.5,2.1, 0.88,1.99, 0.5,1.88],
       [0.0,0.0, 0.0,1.1, 0.3,0.9, 0.6,0.85, 1.0,0.8, 1.0,0.0, 0.5,-0.02],
       [0.0,0.06, 0.0,0.62, 0.5,0.6, 1.0,0.5, 1.0,0.1, 0.5,0.06],
       [0.0,0.2, 0.0,0.4, 0.5,0.42, 0.85,0.3, 0.5,0.2]],
  ne: [[0.0,1.58, 0.0,3.15, 0.22,3.15, 0.32,2.78, 0.62,2.65, 1.0,2.53, 1.0,1.52, 0.6,1.52, 0.3,1.58],
       [0.0,1.7, 0.0,2.35, 0.5,2.34, 1.0,2.27, 1.0,1.7, 0.5,1.68],
       [0.0,1.87, 0.0,2.11, 0.52,2.11, 0.9,1.99, 0.52,1.87],
       [0.0,0.0, 0.0,1.15, 0.3,0.93, 0.6,0.88, 1.0,0.83, 1.0,0.0, 0.5,-0.02],
       [0.0,0.05, 0.0,0.64, 0.5,0.62, 1.0,0.52, 1.0,0.09, 0.5,0.05],
       [0.0,0.19, 0.0,0.41, 0.52,0.43, 0.87,0.3, 0.52,0.19]]
};
const ct_dec_ra = {
  dy: [[5.035,0.16, 5.08,0.36, 5.15,0.61, 5.22,0.75, 5.29,0.8, 5.36,0.77, 5.4,0.65, 5.39,0.49, 5.33,0.28, 5.26,0.12, 5.17,0.05, 5.08,0.04],
       [5.17,0.48, 5.23,0.69, 5.3,0.73, 5.355,0.67, 5.36,0.5, 5.3,0.28, 5.22,0.24, 5.18,0.36],
       [5.23,0.58, 5.26,0.67, 5.31,0.66, 5.33,0.56, 5.3,0.48, 5.25,0.49]],
  ne: [[5.03,0.18, 5.075,0.38, 5.145,0.63, 5.215,0.77, 5.285,0.82, 5.35,0.79, 5.39,0.66, 5.38,0.49, 5.32,0.28, 5.25,0.11, 5.16,0.03, 5.07,0.05],
       [5.175,0.5, 5.235,0.7, 5.3,0.75, 5.35,0.68, 5.355,0.5, 5.295,0.27, 5.215,0.23, 5.175,0.36],
       [5.235,0.59, 5.265,0.68, 5.305,0.67, 5.325,0.57, 5.295,0.49, 5.245,0.5]]
};
const ct_th_ra = {
  dy: [[5.02,1.62, 5.11,1.75, 5.16,2.1, 5.185,2.45, 5.24,2.65, 5.32,2.58, 5.365,2.18, 5.39,1.72, 5.355,1.41, 5.265,1.35, 5.15,1.45, 5.04,1.58],
       [5.12,1.65, 5.2,1.88, 5.265,2.28, 5.34,2.25, 5.37,1.78, 5.34,1.49, 5.22,1.47],
       [5.195,1.65, 5.265,1.75, 5.32,1.82, 5.345,1.65, 5.3,1.53, 5.23,1.56]],
  ne: [[5.01,1.63, 5.1,1.76, 5.15,2.12, 5.18,2.47, 5.235,2.66, 5.31,2.6, 5.355,2.2, 5.38,1.74, 5.35,1.42, 5.26,1.36, 5.14,1.46, 5.03,1.59],
       [5.115,1.66, 5.195,1.9, 5.26,2.3, 5.335,2.27, 5.36,1.8, 5.335,1.5, 5.215,1.48],
       [5.19,1.66, 5.26,1.77, 5.315,1.84, 5.34,1.66, 5.295,1.54, 5.225,1.57]]
};
const ct_dl_ra = {
  dy: [[5.195,2020, 5.185,1590, 5.145,1160, 5.06,900, 5.04,840, 5.145,770, 5.29,840, 5.39,1160, 5.39,1790, 5.38,2020],
       [5.22,2020, 5.21,1590, 5.185,1160, 5.15,970, 5.23,900, 5.345,1040, 5.37,1590, 5.345,2020],
       [5.195,1320, 5.25,1510, 5.3,1470, 5.31,1180, 5.25,1040, 5.205,1160]],
  ne: [[5.19,2020, 5.18,1600, 5.14,1170, 5.05,910, 5.03,830, 5.14,760, 5.28,830, 5.38,1150, 5.38,1780, 5.37,2020],
       [5.215,2020, 5.2,1600, 5.18,1170, 5.14,980, 5.225,890, 5.34,1030, 5.36,1580, 5.335,2020],
       [5.19,1330, 5.245,1520, 5.295,1480, 5.305,1190, 5.245,1030, 5.2,1150]]
};
const ct_psi_ra = {
  dy: [[5.24,3.18, 5.34,3.18, 5.35,2.27, 5.385,1.71, 5.35,1.02, 5.385,0.57, 5.4,0.17, 5.34,-0.03, 5.1,0.02, 4.97,0.34, 5.1,0.66, 5.22,0.85, 5.24,1.36, 5.23,1.71, 5.1,1.68, 4.97,2.1, 5.075,2.41, 5.21,2.5],
       [5.08,1.93, 5.18,2.27, 5.3,2.28, 5.35,1.99, 5.3,1.71, 5.17,1.68],
       [5.17,1.99, 5.25,2.16, 5.31,2.1, 5.32,1.93, 5.27,1.76, 5.2,1.82],
       [5.085,0.28, 5.18,0.56, 5.3,0.62, 5.355,0.34, 5.3,0.03, 5.16,0.07],
       [5.17,0.28, 5.25,0.45, 5.32,0.4, 5.32,0.17, 5.24,0.11, 5.18,0.17]],
  ne: [[5.235,3.18, 5.33,3.18, 5.34,2.3, 5.375,1.72, 5.34,1.0, 5.375,0.58, 5.39,0.18, 5.33,-0.02, 5.09,0.03, 4.95,0.36, 5.09,0.68, 5.21,0.87, 5.23,1.36, 5.22,1.72, 5.09,1.7, 4.95,2.12, 5.065,2.43, 5.2,2.52],
       [5.07,1.95, 5.17,2.29, 5.29,2.3, 5.34,2.0, 5.29,1.72, 5.16,1.69],
       [5.16,2.0, 5.245,2.17, 5.305,2.11, 5.315,1.94, 5.265,1.77, 5.195,1.83],
       [5.075,0.29, 5.17,0.58, 5.29,0.64, 5.345,0.35, 5.29,0.03, 5.15,0.07],
       [5.165,0.29, 5.245,0.46, 5.315,0.41, 5.315,0.18, 5.235,0.12, 5.175,0.18]]
};
const ct_th_dec = {
  dy: [[-0.085,1.68, 0.06,1.75, 0.3,1.98, 0.43,2.31, 0.55,2.65, 0.65,2.68, 0.73,2.38, 0.755,1.85, 0.69,1.52, 0.53,1.37, 0.27,1.38, 0.02,1.55],
       [0.14,1.62, 0.35,1.79, 0.49,2.18, 0.6,2.31, 0.65,2.05, 0.63,1.65, 0.51,1.45, 0.27,1.48],
       [0.3,1.62, 0.46,1.74, 0.57,1.98, 0.62,1.8, 0.58,1.57, 0.43,1.53]],
  ne: [[-0.1,1.7, 0.05,1.77, 0.29,2.0, 0.42,2.33, 0.54,2.66, 0.64,2.7, 0.72,2.4, 0.745,1.86, 0.68,1.53, 0.52,1.38, 0.26,1.39, 0.0,1.56],
       [0.12,1.63, 0.34,1.81, 0.48,2.2, 0.59,2.33, 0.64,2.06, 0.62,1.66, 0.5,1.46, 0.26,1.49],
       [0.29,1.63, 0.45,1.76, 0.56,2.0, 0.61,1.81, 0.57,1.58, 0.42,1.54]]
};
const ct_dl_dec = {
  dy: [[-0.03,737, -0.065,830, 0.1,1230, 0.3,1650, 0.44,1980, 0.46,2020, 0.755,2020, 0.755,1560, 0.71,1140, 0.59,855, 0.26,737],
       [0.06,900, 0.26,1277, 0.466,1650, 0.53,2020, 0.71,2020, 0.69,1560, 0.63,1136, 0.51,900, 0.26,855],
       [0.38,1136, 0.51,1320, 0.59,1230, 0.57,1050, 0.45,1000]],
  ne: [[-0.05,750, -0.08,840, 0.08,1240, 0.28,1670, 0.42,1990, 0.44,2020, 0.74,2020, 0.74,1550, 0.7,1130, 0.58,845, 0.25,730],
       [0.04,910, 0.24,1290, 0.45,1670, 0.52,2020, 0.7,2020, 0.68,1550, 0.62,1130, 0.5,890, 0.25,850],
       [0.37,1145, 0.5,1335, 0.58,1240, 0.56,1045, 0.44,995]]
};
const ct_psi_dec = {
  dy: [[-0.07,1.99, 0.23,2.39, 0.44,2.5, 0.53,3.13, 0.63,3.18, 0.655,2.27, 0.74,1.59, 0.7,0.79, 0.74,0.11, 0.61,-0.03, 0.1,0.0, -0.095,0.28, 0.23,0.62, 0.46,0.85, 0.485,1.36, 0.46,1.65, 0.19,1.71],
       [0.09,1.93, 0.32,2.22, 0.55,2.27, 0.655,1.93, 0.54,1.72, 0.3,1.72],
       [0.3,1.93, 0.46,2.1, 0.56,2.05, 0.56,1.82, 0.44,1.76],
       [0.1,0.28, 0.32,0.55, 0.56,0.57, 0.655,0.28, 0.56,0.02, 0.3,0.06],
       [0.3,0.28, 0.46,0.43, 0.56,0.4, 0.56,0.17, 0.44,0.11]],
  ne: [[-0.09,2.0, 0.21,2.41, 0.42,2.52, 0.51,3.13, 0.61,3.18, 0.64,2.28, 0.72,1.6, 0.69,0.8, 0.72,0.12, 0.6,-0.02, 0.08,0.01, -0.11,0.3, 0.21,0.64, 0.45,0.87, 0.475,1.36, 0.45,1.66, 0.17,1.72],
       [0.07,1.94, 0.31,2.24, 0.54,2.29, 0.645,1.94, 0.53,1.73, 0.29,1.73],
       [0.29,1.94, 0.45,2.11, 0.55,2.06, 0.55,1.83, 0.43,1.77],
       [0.08,0.29, 0.31,0.57, 0.55,0.59, 0.645,0.29, 0.55,0.03, 0.29,0.07],
       [0.29,0.29, 0.45,0.44, 0.55,0.41, 0.55,0.18, 0.43,0.12]]
};
const ct_dl_th = {
  dy: [[1.53,713, 1.37,1040, 1.34,1464, 1.57,1793, 1.97,1980, 2.37,2027, 2.63,2027, 2.5,1793, 2.16,1464, 1.9,1136, 1.7,808, 1.6,703],
       [1.42,900, 1.39,1230, 1.56,1512, 1.85,1745, 2.29,2005, 2.37,1960, 2.16,1745, 1.9,1464, 1.77,1136, 1.64,900],
       [1.53,1136, 1.64,1371, 1.74,1393, 1.77,1204, 1.67,990, 1.57,1020]],
  ne: [[1.51,720, 1.35,1050, 1.32,1470, 1.55,1800, 1.95,1990, 2.35,2025, 2.6,2025, 2.47,1790, 2.13,1460, 1.88,1130, 1.68,800, 1.58,700],
       [1.4,905, 1.37,1240, 1.54,1520, 1.83,1755, 2.27,2010, 2.35,1965, 2.14,1750, 1.88,1470, 1.75,1130, 1.62,895],
       [1.51,1140, 1.62,1380, 1.72,1400, 1.75,1210, 1.65,985, 1.55,1015]]
};
const ct_psi_th = {
  dy: [[1.75,3.18, 2.2,3.18, 2.45,2.9, 2.48,2.4, 2.5,1.8, 2.52,1.2, 2.55,0.6, 2.56,0.0, 2.1,-0.03, 1.5,-0.02, 1.27,0.15, 1.25,0.45, 1.4,0.72, 1.8,0.8, 2.05,0.95, 2.15,1.15, 2.05,1.4, 1.8,1.6, 1.4,1.62, 1.27,1.9, 1.4,2.35, 1.7,2.5, 1.75,2.8],
       [1.39,1.95, 1.5,2.2, 1.7,2.22, 1.8,1.95, 1.7,1.7, 1.5,1.68],
       [1.5,1.95, 1.6,2.07, 1.72,2.05, 1.76,1.92, 1.65,1.84, 1.55,1.86],
       [1.35,0.3, 1.5,0.58, 1.75,0.62, 1.95,0.4, 1.8,0.08, 1.5,0.06],
       [1.5,0.3, 1.62,0.45, 1.75,0.42, 1.8,0.28, 1.68,0.17, 1.55,0.2]],
  ne: [[1.78,3.18, 2.25,3.18, 2.43,2.85, 2.46,2.35, 2.48,1.8, 2.5,1.2, 2.53,0.6, 2.54,0.0, 2.1,-0.02, 1.5,-0.01, 1.25,0.17, 1.23,0.47, 1.38,0.74, 1.78,0.82, 2.03,0.97, 2.12,1.15, 2.02,1.42, 1.78,1.62, 1.38,1.64, 1.25,1.92, 1.38,2.37, 1.68,2.52, 1.78,2.82],
       [1.37,1.96, 1.48,2.22, 1.69,2.24, 1.79,1.96, 1.69,1.69, 1.48,1.67],
       [1.49,1.96, 1.59,2.08, 1.71,2.06, 1.75,1.93, 1.64,1.85, 1.54,1.87],
       [1.33,0.31, 1.48,0.6, 1.74,0.64, 1.94,0.41, 1.79,0.07, 1.48,0.05],
       [1.49,0.31, 1.61,0.46, 1.74,0.43, 1.79,0.29, 1.67,0.18, 1.54,0.21]]
};
const ct_psi_dl = {
  dy: [[670,2.0, 910,2.39, 1390,2.49, 1860,2.71, 2000,3.15, 2000,1.49, 1390,1.44, 910,1.61],
       [765,1.94, 1003,2.22, 1620,2.27, 1960,2.1, 1860,1.77, 1150,1.72],
       [957,1.95, 1100,2.06, 1385,2.05, 1385,1.85, 1100,1.83],
       [620,0.5, 910,0.84, 1620,0.95, 2000,1.28, 2000,0.0, 1200,-0.03, 700,0.05],
       [705,0.39, 1150,0.73, 1670,0.78, 1960,0.5, 1670,0.17, 1000,0.17],
       [957,0.39, 1100,0.5, 1400,0.5, 1400,0.28, 1100,0.27]],
  ne: [[690,2.02, 920,2.42, 1400,2.52, 1870,2.75, 2010,3.15, 2010,1.46, 1400,1.42, 920,1.6],
       [780,1.95, 1010,2.24, 1630,2.29, 1970,2.12, 1870,1.76, 1160,1.7],
       [965,1.96, 1110,2.08, 1395,2.07, 1395,1.84, 1110,1.82],
       [640,0.52, 920,0.87, 1630,0.98, 2010,1.3, 2010,0.0, 1210,-0.03, 710,0.06],
       [720,0.4, 1160,0.75, 1680,0.8, 1970,0.52, 1680,0.16, 1010,0.16],
       [965,0.4, 1110,0.51, 1410,0.51, 1410,0.27, 1110,0.26]]
};

const contourGrid = [
  [],
  [ct_q_mc],
  [ct_c1_mc, ct_c1_q],
  [ct_c2_mc, ct_c2_q, ct_c2_c1],
  [ct_ra_mc, ct_ra_q, ct_ra_c1, ct_ra_c2],
  [ct_dec_mc, ct_dec_q, ct_dec_c1, ct_dec_c2, ct_dec_ra],
  [ct_th_mc, ct_th_q, ct_th_c1, ct_th_c2, ct_th_ra, ct_th_dec],
  [ct_dl_mc, ct_dl_q, ct_dl_c1, ct_dl_c2, ct_dl_ra, ct_dl_dec, ct_dl_th],
  [ct_psi_mc, ct_psi_q, ct_psi_c1, ct_psi_c2, ct_psi_ra, ct_psi_dec, ct_psi_th, ct_psi_dl]
];

// ---------------- layout & style ----------------
const BLUE = '#1a70c2', ORANGE = '#fdb44b', TRUTH = '#8c1a6b', FRAME = '#4a4a4a', TICK_COLOR = '#3a3a3a';
const N = 9, PANEL = 103;
const colLeft = [93, 201, 309, 418, 526, 634, 742, 851, 959];
const rowTop = [7, 115, 223, 331, 440, 548, 656, 764, 872];
const xLabelShift = [4.5, 6.2, 6.2, 6.2, 8.5, 6.2, 6.2, 9, 6.2];
const page = document.getElementById('page');

const framePlugin = {
  id: 'panelFrame',
  afterDraw(chart) {
    const { ctx, chartArea: a } = chart;
    ctx.save();
    ctx.strokeStyle = FRAME;
    ctx.lineWidth = 1.5;
    ctx.strokeRect(a.left, a.top, a.right - a.left, a.bottom - a.top);
    ctx.restore();
  }
};

function toPoints(flat) {
  const pts = [];
  for (let i = 0; i < flat.length; i += 2) pts.push({ x: flat[i], y: flat[i + 1] });
  return pts;
}

// closed smooth loop: wrap the ends so every visible segment has neighbours on both sides
function loopDataset(flat, color) {
  const pts = toPoints(flat);
  const n = pts.length;
  const data = [pts[n - 1], ...pts, pts[0], pts[1]];
  const lastHidden = data.length - 2;
  return {
    data, showLine: true, borderColor: color, borderWidth: 1.4, pointRadius: 0, tension: 0.38, fill: false,
    segment: { borderColor: c => (c.p0DataIndex === 0 || c.p0DataIndex === lastHidden) ? 'rgba(0,0,0,0)' : undefined }
  };
}

function lineDataset(data, color, width, dash) {
  return { data, showLine: true, borderColor: color, borderWidth: width, borderDash: dash || [], pointRadius: 0, tension: 0, fill: false };
}

function histDataset(p, vals, color) {
  const s = histStart[p], w = histWidth[p];
  const data = [{ x: s, y: 0 }];
  vals.forEach((v, i) => { data.push({ x: s + i * w, y: v }); data.push({ x: s + (i + 1) * w, y: v }); });
  data.push({ x: s + vals.length * w, y: 0 });
  return lineDataset(data, color, 1.2);
}

function tickLabel(vals, texts) {
  return v => { const i = vals.indexOf(v); return i >= 0 ? texts[i] : ''; };
}

function makePanel(row, col) {
  const diag = row === col;
  const showX = row === N - 1;
  const showY = col === 0 && !diag;
  const padL = showY ? 70 : 6;
  const padB = showX ? 50 : 6;
  const extraB = showY && !showX ? 14 : 0;   // room for the lowest rotated y label
  const extraR = showX ? 14 : 3;             // room for the rightmost rotated x label
  const W = padL + PANEL + extraR, H = 2 + PANEL + padB + extraB;
  const cv = document.createElement('canvas');
  cv.width = W; cv.height = H;
  cv.style.width = W + 'px'; cv.style.height = H + 'px';
  cv.style.left = (colLeft[col] - padL) + 'px';
  cv.style.top = (rowTop[row] - 2) + 'px';
  page.appendChild(cv);

  const xVals = diag ? histTickVals[col] : tickVals[col];
  const gridOpts = { drawOnChartArea: false, drawTicks: true, tickLength: 4, color: FRAME, lineWidth: 1.2 };
  const tickFont = { family: 'DejaVu Sans', size: 10 };
  // fixed axis sizes; no extra room reserved for overhanging labels
  const fitX = ax => { ax.height = padB; ax.paddingLeft = 0; ax.paddingRight = 0; ax.paddingTop = 0; ax.paddingBottom = 0; };
  const fitY = ax => { ax.width = padL; ax.paddingLeft = 0; ax.paddingRight = 0; ax.paddingTop = 0; ax.paddingBottom = 0; };

  const scales = {
    x: {
      type: 'linear', bounds: 'data', min: axisMin[col], max: axisMax[col],
      afterBuildTicks: ax => { ax.ticks = xVals.map(v => ({ value: v })); },
      afterFit: fitX,
      grid: gridOpts, border: { display: false },
      ticks: { display: showX, autoSkip: false, minRotation: 45, maxRotation: 45, padding: 4,
               labelOffset: xLabelShift[col], color: TICK_COLOR, font: tickFont,
               callback: tickLabel(tickVals[col], tickText[col]) }
    },
    y: diag ? {
      type: 'linear', bounds: 'data', min: 0, max: 1,
      afterFit: fitY,
      grid: { display: false }, border: { display: false }, ticks: { display: false }
    } : {
      type: 'linear', bounds: 'data', min: axisMin[row], max: axisMax[row],
      afterBuildTicks: ax => { ax.ticks = tickVals[row].map(v => ({ value: v })); },
      afterFit: fitY,
      grid: gridOpts, border: { display: false },
      ticks: { display: showY, autoSkip: false, minRotation: 45, maxRotation: 45, padding: 10,
               color: TICK_COLOR, font: tickFont, callback: tickLabel(tickVals[row], tickText[row]) }
    }
  };

  const datasets = [];
  if (diag) {
    datasets.push(histDataset(col, histDy[col], BLUE));
    datasets.push(histDataset(col, histNe[col], ORANGE));
    quantDy[col].forEach(q => datasets.push(lineDataset([{ x: q, y: 0 }, { x: q, y: 1 }], BLUE, 1.5, [4, 2.5])));
    quantNe[col].forEach(q => datasets.push(lineDataset([{ x: q, y: 0 }, { x: q, y: 1 }], ORANGE, 1.5, [4, 2.5])));
    datasets.push(lineDataset([{ x: truths[col], y: 0 }, { x: truths[col], y: 1 }], TRUTH, 1.5));
  } else {
    const set = contourGrid[row][col];
    set.dy.forEach(poly => datasets.push(loopDataset(poly, BLUE)));
    set.ne.forEach(poly => datasets.push(loopDataset(poly, ORANGE)));
    datasets.push(lineDataset([{ x: truths[col], y: axisMin[row] }, { x: truths[col], y: axisMax[row] }], TRUTH, 1.5));
    datasets.push(lineDataset([{ x: axisMin[col], y: truths[row] }, { x: axisMax[col], y: truths[row] }], TRUTH, 1.5));
    datasets.push({ data: [{ x: truths[col], y: truths[row] }], showLine: false, pointStyle: 'rect', pointRadius: 5.3,
                    backgroundColor: TRUTH, borderColor: TRUTH, borderWidth: 0 });
  }

  new Chart(cv, {
    type: 'scatter',
    data: { datasets },
    options: {
      responsive: false, animation: false, devicePixelRatio: 1, events: [],
      layout: { autoPadding: false, padding: { left: 0, right: extraR, top: 2, bottom: extraB } },
      plugins: { legend: { display: false }, tooltip: { enabled: false }, title: { display: false } },
      scales
    },
    plugins: [framePlugin]
  });
}

for (let r = 0; r < N; r++) for (let c = 0; c <= r; c++) makePanel(r, c);

// axis titles
for (let i = 0; i < N; i++) {
  const b = document.createElement('div');
  b.className = 'axlab';
  b.innerHTML = paramLabels[i];
  b.style.left = (colLeft[i] + PANEL / 2) + 'px';
  b.style.top = '1030px';
  page.appendChild(b);
  if (i > 0) {
    const l = document.createElement('div');
    l.className = 'axlab rot';
    l.innerHTML = paramLabels[i];
    l.style.left = '35px';
    l.style.top = (rowTop[i] + PANEL / 2) + 'px';
    page.appendChild(l);
  }
}
</script>
</body>
</html>
